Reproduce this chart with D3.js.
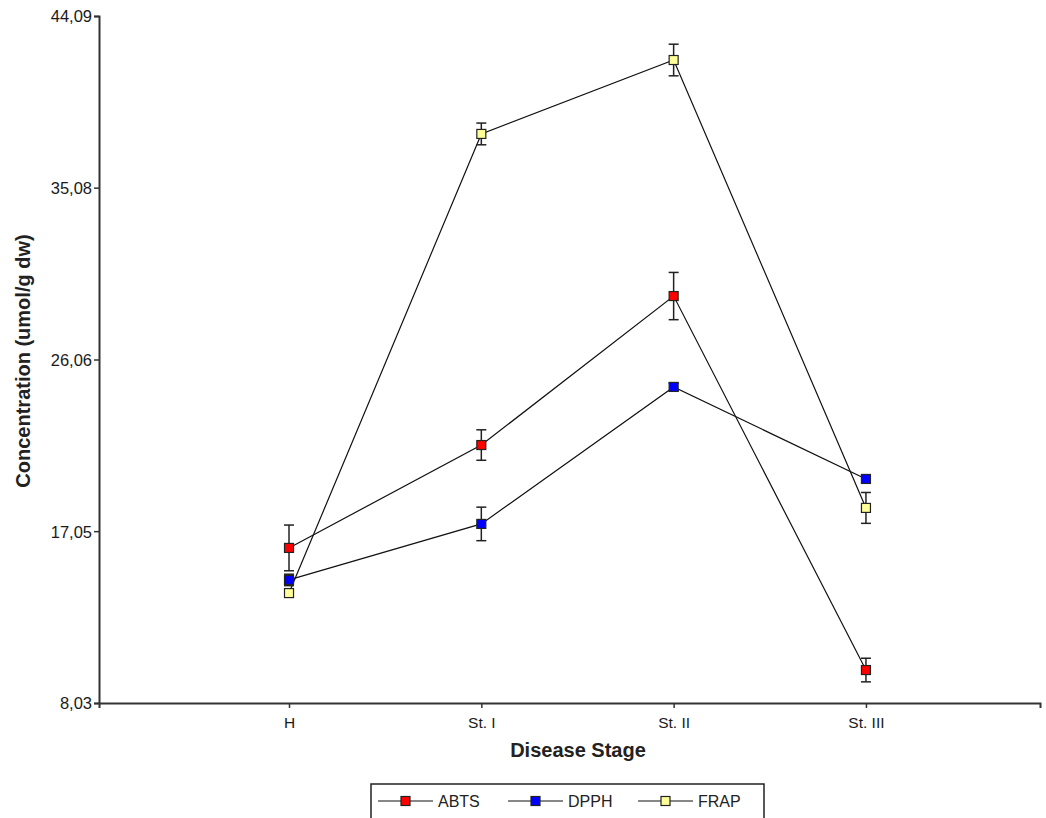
<!DOCTYPE html>
<html><head><meta charset="utf-8">
<script src="https://cdn.jsdelivr.net/npm/d3@7"></script>
<style>body{margin:0;background:#fff;} svg{display:block;font-family:"Liberation Sans",Arial,sans-serif;}</style>
</head><body>
<script>
const categories = ["H", "St. I", "St. II", "St. III"];
const yTicks = [8.03, 17.05, 26.06, 35.08, 44.09];
const seriesNames = ["ABTS", "DPPH", "FRAP"];
const seriesColors = ["#ff0000", "#0000ff", "#ffff99"];
const abtsValues = [16.17, 21.57, 29.39, 9.76];
const abtsErrors = [1.2, 0.8, 1.24, 0.62];
const dpphValues = [14.49, 17.43, 24.62, 19.79];
const dpphErrors = [0.3, 0.88, 0.2, 0.2];
const frapValues = [13.80, 37.90, 41.78, 18.27];
const frapErrors = [0.2, 0.57, 0.83, 0.81];

const series = [
  {name: seriesNames[0], color: seriesColors[0], values: abtsValues, errors: abtsErrors},
  {name: seriesNames[1], color: seriesColors[1], values: dpphValues, errors: dpphErrors},
  {name: seriesNames[2], color: seriesColors[2], values: frapValues, errors: frapErrors}
];

const W = 1046, H = 818;
const svg = d3.select("body").append("svg").attr("width", W).attr("height", H);
const FONT = "'Liberation Sans', Arial, sans-serif";

const x = d3.scaleLinear().domain([-0.988, 3.905]).range([99, 1040]);
const y = d3.scaleLinear().domain([8.03, 44.09]).range([703, 16]);

// axes
const yAxis = d3.axisLeft(y).tickValues(yTicks).tickFormat(d => d.toFixed(2).replace(".", ",")).tickSizeOuter(0).tickSize(5);
const gy = svg.append("g").attr("transform", "translate(99,0)").call(yAxis)
  .attr("font-size", 16.5).attr("font-family", FONT);
gy.select(".domain").attr("stroke", "#333").attr("stroke-width", 2);
gy.selectAll(".tick line").attr("stroke", "#333").attr("stroke-width", 1.5);
gy.selectAll(".tick text").attr("font-size", 16.5).style("font-size", "16.5px").attr("fill", "#1a1a1a").attr("x", -7).attr("dy", "0.36em");

const xAxis = d3.axisBottom(x).tickValues(d3.range(categories.length)).tickFormat(i => categories[i]).tickSizeOuter(0).tickSize(5);
const gx = svg.append("g").attr("transform", "translate(0,703)").call(xAxis)
  .attr("font-size", 15.5).attr("font-family", FONT);
gx.select(".domain").attr("stroke", "#333").attr("stroke-width", 2);
gx.selectAll(".tick line").attr("stroke", "#333").attr("stroke-width", 1.5);
gx.selectAll(".tick text").attr("font-size", 15.5).style("font-size", "15.5px").attr("fill", "#1a1a1a").attr("y", 25).attr("dy", 0);

// titles
svg.append("text").attr("x", 578).attr("y", 757).attr("text-anchor", "middle")
  .style("font-size", "20px").style("font-weight", "bold").attr("fill", "#222").text("Disease Stage");
svg.append("text").attr("transform", "translate(30,361) rotate(-90)").attr("text-anchor", "middle")
  .style("font-size", "20px").style("font-weight", "bold").attr("fill", "#222").text("Concentration (umol/g dw)");

// lines
const line = d3.line().x((d, i) => x(i)).y(d => y(d));
series.forEach(s => {
  svg.append("path").datum(s.values).attr("d", line).attr("fill", "none").attr("stroke", "#111").attr("stroke-width", 1.2);
});

// error bars
series.forEach(s => {
  const g = svg.append("g");
  s.values.forEach((v, i) => {
    const cx = x(i), y1 = y(v + s.errors[i]), y2 = y(v - s.errors[i]);
    g.append("line").attr("x1", cx).attr("x2", cx).attr("y1", y1).attr("y2", y2).attr("stroke", "#222").attr("stroke-width", 1.5);
    [y1, y2].forEach(yy => g.append("line").attr("x1", cx - 5).attr("x2", cx + 5).attr("y1", yy).attr("y2", yy).attr("stroke", "#222").attr("stroke-width", 1.5));
  });
});

// markers
series.forEach(s => {
  svg.append("g").selectAll("rect").data(s.values).join("rect")
    .attr("x", (d, i) => x(i) - 4.5).attr("y", d => y(d) - 4.5)
    .attr("width", 9).attr("height", 9).attr("fill", s.color).attr("stroke", "#222").attr("stroke-width", 1.2);
});

// legend
const lg = svg.append("g");
lg.append("rect").attr("x", 371).attr("y", 784).attr("width", 393).attr("height", 50).attr("fill", "none").attr("stroke", "#222").attr("stroke-width", 1.5);
const lx = [378, 508, 638];
series.forEach((s, i) => {
  lg.append("line").attr("x1", lx[i]).attr("x2", lx[i] + 55).attr("y1", 801).attr("y2", 801).attr("stroke", "#111").attr("stroke-width", 1.2);
  lg.append("rect").attr("x", lx[i] + 23).attr("y", 796.5).attr("width", 9).attr("height", 9).attr("fill", s.color).attr("stroke", "#222").attr("stroke-width", 1.2);
  lg.append("text").attr("x", lx[i] + 60).attr("y", 807).style("font-size", "16px").attr("fill", "#222").text(s.name);
});
</script>
</body></html>
